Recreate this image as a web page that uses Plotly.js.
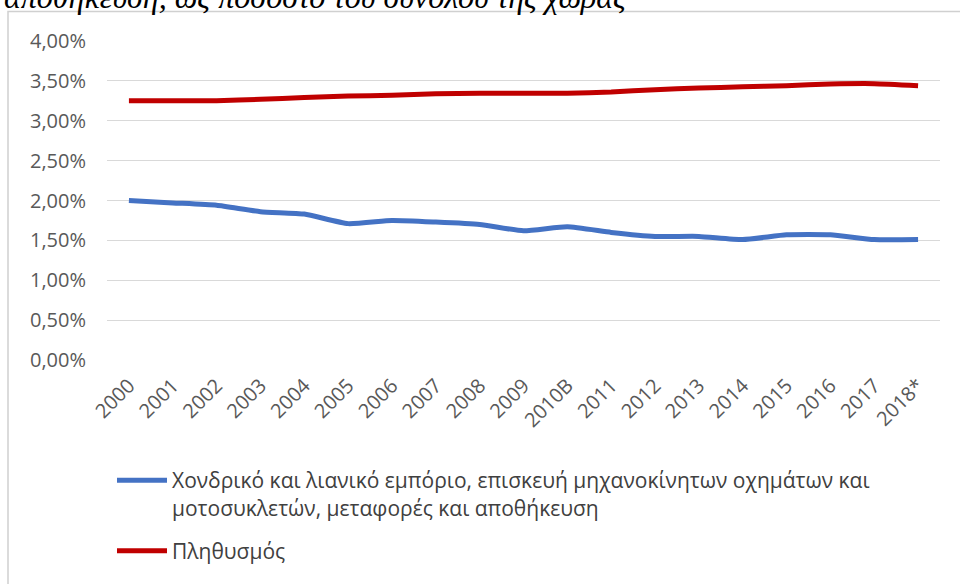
<!DOCTYPE html>
<html>
<head>
<meta charset="utf-8">
<script src="https://cdn.plot.ly/plotly-3.0.1.min.js"></script>
<style>html,body{margin:0;padding:0;background:#fff;}#chart{width:960px;height:584px;}</style>
</head>
<body>
<div id="chart"></div>
<script>
const years = ["2000","2001","2002","2003","2004","2005","2006","2007","2008","2009","2010B","2011","2012","2013","2014","2015","2016","2017","2018*"];
const tradeShare = [2.00,1.97,1.94,1.86,1.83,1.71,1.75,1.73,1.70,1.62,1.67,1.60,1.55,1.55,1.51,1.57,1.57,1.51,1.51];
const populationShare = [3.25,3.25,3.25,3.27,3.29,3.31,3.32,3.34,3.345,3.345,3.345,3.36,3.39,3.41,3.425,3.44,3.46,3.465,3.44];
const tradeName = "Χονδρικό και λιανικό εμπόριο, επισκευή μηχανοκίνητων οχημάτων και<br>μοτοσυκλετών, μεταφορές και αποθήκευση";
const popName = "Πληθυσμός";
const titleText = "αποθήκευση, ως ποσοστό του συνόλου της χώρας";
const yTicks = [0,0.5,1,1.5,2,2.5,3,3.5,4];
const yTickText = ["0,00%","0,50%","1,00%","1,50%","2,00%","2,50%","3,00%","3,50%","4,00%"];

const W = 960, H = 584;
const m = {l:107, r:20, t:41, b:224};
const pw = W - m.l - m.r, ph = H - m.t - m.b;
const px = x => (x - m.l) / pw;
const py = y => (H - m.b - y) / ph;

const traces = [
  {x: years, y: tradeShare, name: tradeName, legendgroup: 'a', type: 'scatter', mode: 'lines',
   line: {color: '#4472c4', width: 5, shape: 'spline', smoothing: 0.5}, hoverinfo: 'skip'},
  {x: years, y: populationShare, name: popName, legendgroup: 'b', type: 'scatter', mode: 'lines',
   line: {color: '#c00000', width: 5, shape: 'spline', smoothing: 0.5}, hoverinfo: 'skip'}
];

const layout = {
  width: W, height: H,
  margin: m,
  paper_bgcolor: '#fff', plot_bgcolor: '#fff',
  showlegend: true,
  font: {family: '"Open Sans", sans-serif', color: '#595959'},
  xaxis: {
    type: 'category', range: [-0.5, 18.5], showgrid: false, zeroline: false, showline: false,
    tickangle: -45, tickfont: {size: 20, color: '#595959'}, ticks: '', ticklabelstandoff: 9, fixedrange: true
  },
  yaxis: {
    range: [0, 4], tickvals: yTicks, ticktext: yTickText,
    showgrid: true, gridcolor: '#d9d9d9', gridwidth: 1, zeroline: false, showline: false,
    tickfont: {size: 20, color: '#595959'}, ticklabelstandoff: 20, ticks: '', fixedrange: true
  },
  legend: {
    orientation: 'v', x: px(112), y: py(460), xanchor: 'left', yanchor: 'top',
    font: {size: 21, color: '#404040'}, itemwidth: 50, traceorder: 'grouped', tracegroupgap: 13,
    valign: 'top', bgcolor: 'rgba(0,0,0,0)'
  },
  annotations: [{
    text: titleText, xref: 'paper', yref: 'paper', x: px(2), y: py(-3),
    xanchor: 'left', yanchor: 'middle', showarrow: false,
    font: {family: '"Liberation Serif", serif', size: 32, color: '#000', style: 'italic'}
  }],
  shapes: [{
    type: 'rect', xref: 'paper', yref: 'paper', x0: px(8), x1: px(975), y0: py(11.5), y1: py(600),
    line: {color: '#d0d0d0', width: 1.5}, fillcolor: 'rgba(0,0,0,0)', layer: 'below'
  }]
};
Plotly.newPlot('chart', traces, layout, {displayModeBar: false, staticPlot: true});
</script>
</body>
</html>
